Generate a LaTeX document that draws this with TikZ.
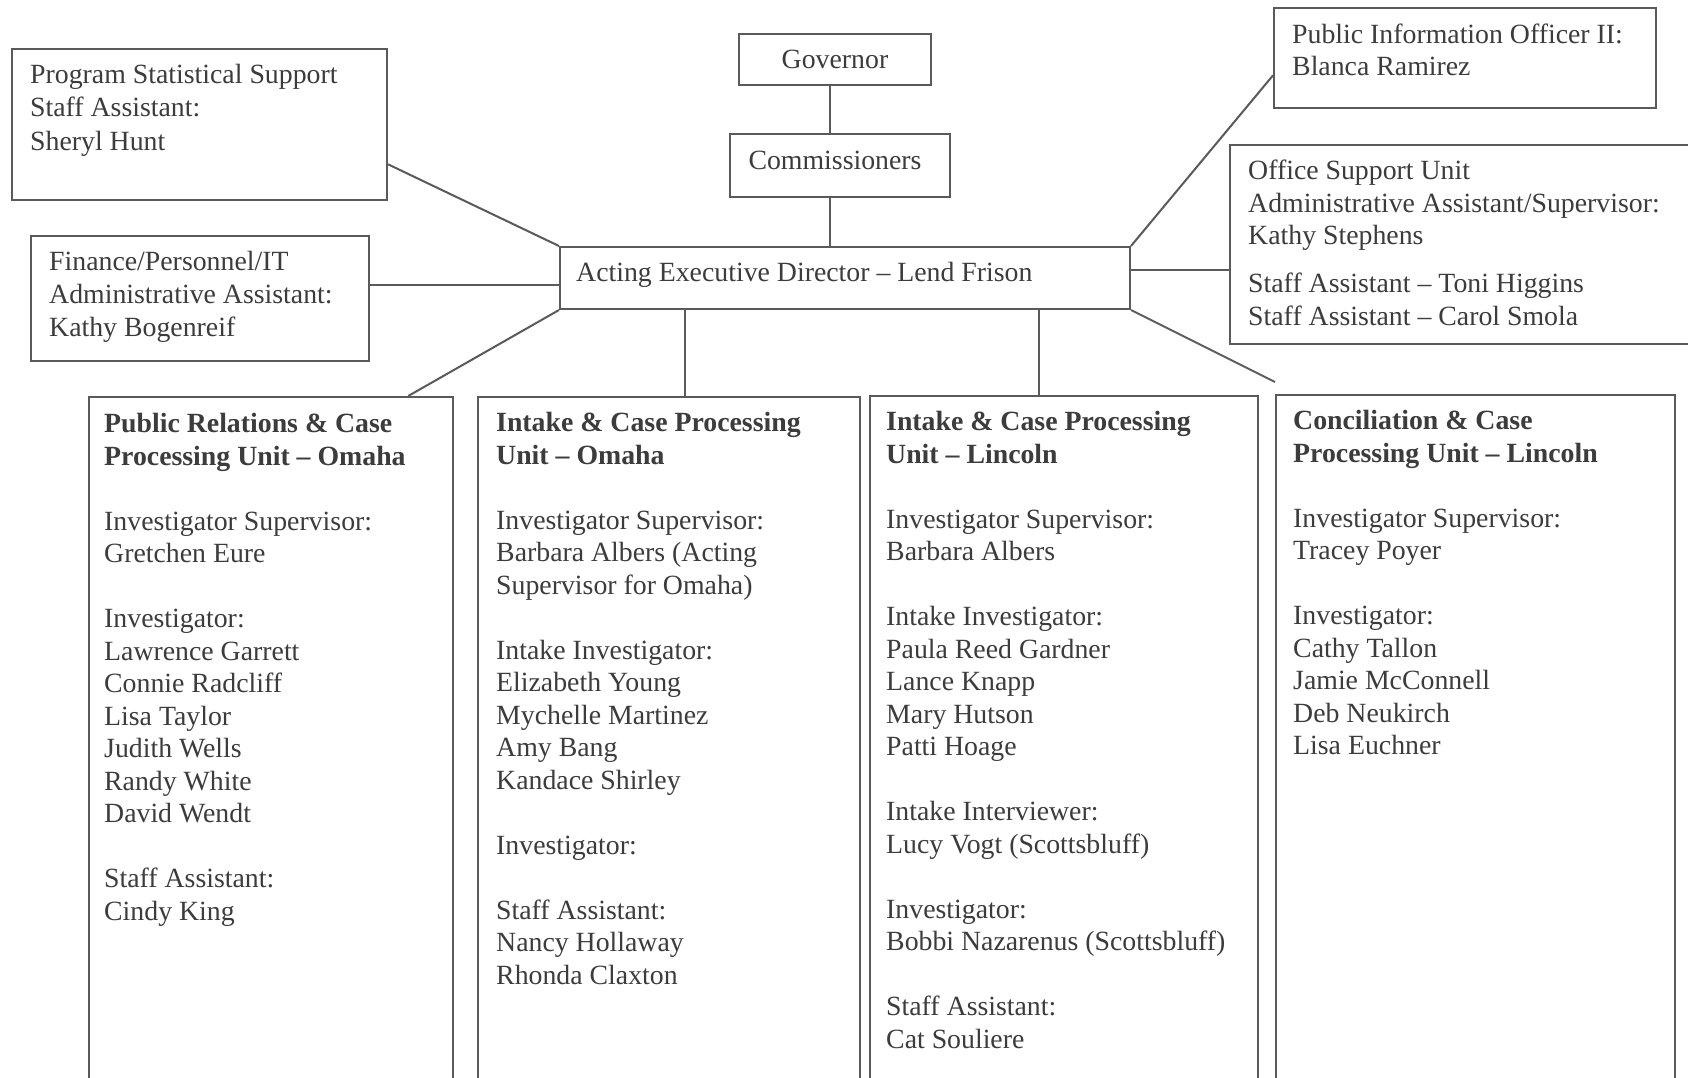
\documentclass[tikz,border=0pt]{standalone}
\usepackage{fontspec}
\setmainfont{Liberation Serif}
\usetikzlibrary{calc}
\definecolor{inkc}{HTML}{3C3C3C}
\definecolor{linec}{HTML}{5A5A5A}
\tikzset{
  orgbox/.style={draw=linec, line width=2pt, inner sep=0pt, anchor=north west, rectangle},
  orgtxt/.style={text=inkc, inner sep=0pt, anchor=north west, align=left,
     font=\fontsize{27.8pt}{32.5pt}\selectfont},
  toptxt/.style={orgtxt, font=\fontsize{27.8pt}{33pt}\selectfont},
  conn/.style={draw=linec, line width=2pt},
}
\newcommand{\gp}{\\[32.5pt]}
\begin{document}
\begin{tikzpicture}[x=1pt,y=-1pt]
\useasboundingbox (0,0) rectangle (1688,1078);
\clip (0,0) rectangle (1688,1078);
\fill[white] (0,0) rectangle (1688,1078);

% top boxes
\node[orgbox, minimum width=192pt, minimum height=51pt] (gov) at (738,33) {};
\node[text=inkc, font=\fontsize{27.8pt}{32.5pt}\selectfont, inner sep=0pt] (govt) at (gov.center) {Governor};
\node[orgbox, minimum width=220pt, minimum height=63pt] (comm) at (729,133) {};
\node[text=inkc, font=\fontsize{27.8pt}{32.5pt}\selectfont, inner sep=0pt, anchor=base] (commt) at (835,170) {Commissioners};
\node[orgbox, minimum width=570pt, minimum height=62pt] (acting) at (559,246) {};
\node[text=inkc, font=\fontsize{27.8pt}{32.5pt}\selectfont, inner sep=0pt, anchor=base west] (actingt) at (576,281) {Acting Executive Director – Lend Frison};

\node[orgbox, minimum width=375pt, minimum height=151pt] (ps) at (11,48) {};
\node[toptxt, font=\fontsize{27.8pt}{33.3pt}\selectfont] (pst) at (30,60) {\strut Program Statistical Support\\Staff Assistant:\\Sheryl Hunt};

\node[orgbox, minimum width=338pt, minimum height=125pt] (fin) at (30,235) {};
\node[toptxt] (fint) at (49,247) {\strut Finance/Personnel/IT\\Administrative Assistant:\\Kathy Bogenreif};

\node[orgbox, minimum width=382pt, minimum height=100pt] (pio) at (1273,7) {};
\node[toptxt, font=\fontsize{27.8pt}{32pt}\selectfont] (piot) at (1292,20.6) {\strut Public Information Officer II:\\Blanca Ramirez};

\node[orgbox, minimum width=500pt, minimum height=199pt] (off) at (1229,144) {};
\node[toptxt, font=\fontsize{27.8pt}{32.3pt}\selectfont] (offt) at (1248,157) {\strut Office Support Unit\\Administrative Assistant/Supervisor:\\Kathy Stephens\\[16pt]Staff Assistant – Toni Higgins\\Staff Assistant – Carol Smola};

% unit boxes
\node[orgbox, minimum width=364pt, minimum height=720pt] (pr) at (88,396) {};
\node[orgtxt] (prt) at (104,410) {\strut\textbf{Public Relations \& Case}\\\textbf{Processing Unit – Omaha}\gp
Investigator Supervisor:\\Gretchen Eure\gp
Investigator:\\Lawrence Garrett\\Connie Radcliff\\Lisa Taylor\\Judith Wells\\Randy White\\David Wendt\gp
Staff Assistant:\\Cindy King};

\node[orgbox, minimum width=382pt, minimum height=720pt] (ino) at (477,396) {};
\node[orgtxt] (inot) at (496,409) {\strut\textbf{Intake \& Case Processing}\\\textbf{Unit – Omaha}\gp
Investigator Supervisor:\\Barbara Albers (Acting\\Supervisor for Omaha)\gp
Intake Investigator:\\Elizabeth Young\\Mychelle Martinez\\Amy Bang\\Kandace Shirley\gp
Investigator:\gp
Staff Assistant:\\Nancy Hollaway\\Rhonda Claxton};

\node[orgbox, minimum width=388pt, minimum height=720pt] (inl) at (869,395) {};
\node[orgtxt] (inlt) at (886,408) {\strut\textbf{Intake \& Case Processing}\\\textbf{Unit – Lincoln}\gp
Investigator Supervisor:\\Barbara Albers\gp
Intake Investigator:\\Paula Reed Gardner\\Lance Knapp\\Mary Hutson\\Patti Hoage\gp
Intake Interviewer:\\Lucy Vogt (Scottsbluff)\gp
Investigator:\\Bobbi Nazarenus (Scottsbluff)\gp
Staff Assistant:\\Cat Souliere};

\node[orgbox, minimum width=399pt, minimum height=720pt] (conc) at (1275,394) {};
\node[orgtxt] (conct) at (1293,407) {\strut\textbf{Conciliation \& Case}\\\textbf{Processing Unit – Lincoln}\gp
Investigator Supervisor:\\Tracey Poyer\gp
Investigator:\\Cathy Tallon\\Jamie McConnell\\Deb Neukirch\\Lisa Euchner};

% connector helper coordinates
\coordinate (spine) at (830,0);
\coordinate (v1) at (685,0);
\coordinate (v2) at (1039,0);
\coordinate (concend) at (1275,382);
\path ($(ps.north east)!0.76!(ps.south east)$) coordinate (psc);
\path ($(fin.north east)!0.39!(fin.south east)$) coordinate (finc);
\path ($(pr.north west)!0.875!(pr.north east)$) coordinate (prc);
\path ($(pio.north west)!0.67!(pio.south west)$) coordinate (pioc);
\path ($(acting.north east)!0.38!(acting.south east)$) coordinate (offc);

% connectors
\draw[conn] (gov.south -| spine) -- (comm.north -| spine);
\draw[conn] (comm.south -| spine) -- (acting.north -| spine);
\draw[conn] (psc) -- (acting.north west);
\draw[conn] (finc) -- (finc -| acting.west);
\draw[conn] (acting.south west) -- (prc);
\draw[conn] (acting.south -| v1) -- (ino.north -| v1);
\draw[conn] (acting.south -| v2) -- (inl.north -| v2);
\draw[conn] (acting.south east) -- (concend);
\draw[conn] (acting.north east) -- (pioc);
\draw[conn] (offc) -- (offc -| off.west);
\end{tikzpicture}
\end{document}
